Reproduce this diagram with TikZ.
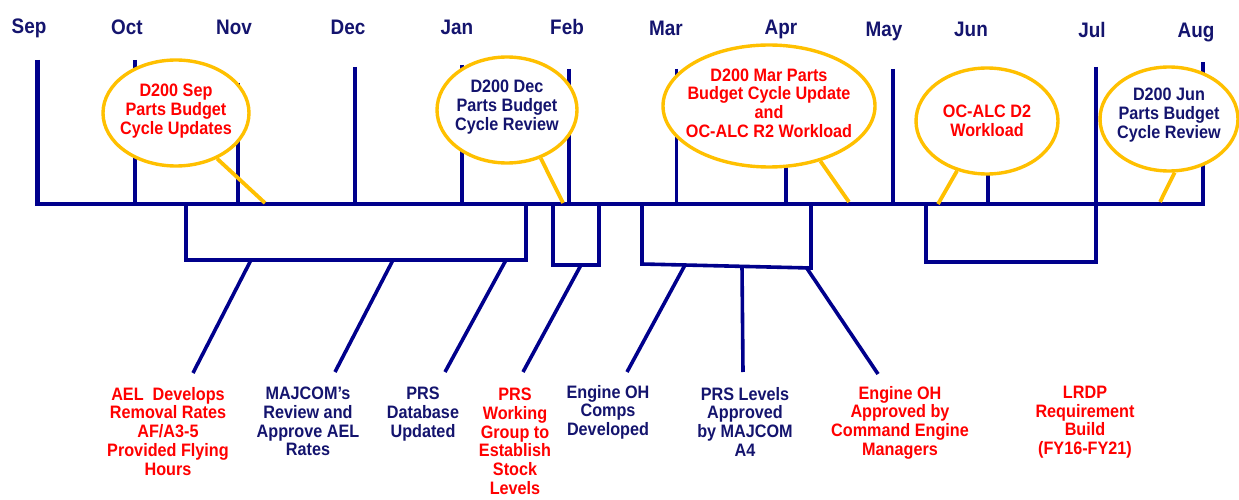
\documentclass[tikz,border=0pt]{standalone}
\usepackage{fontspec}
\newfontfamily\labfont{Liberation Sans}[FakeStretch=0.9]
\usetikzlibrary{shapes.geometric}
\definecolor{navyline}{RGB}{0,0,140}
\definecolor{navytext}{RGB}{20,20,110}
\definecolor{redtext}{RGB}{255,0,0}
\definecolor{goldline}{RGB}{255,192,0}
\tikzset{
  tl/.style={draw=navyline, line width=3.6pt, line join=miter},
  mainl/.style={draw=navyline, line width=4.4pt, line join=miter},
  month/.style={font=\labfont\bfseries\fontsize{21}{21}\selectfont, text=navytext, anchor=base, inner sep=0pt},
  bubble/.style={ellipse, draw=goldline, line width=3.4pt, fill=white, inner sep=0pt},
  tail/.style={draw=goldline, line width=3.8pt},
  ctext/.style={font=\labfont\bfseries\fontsize{18}{18.6}\selectfont, align=center, inner sep=0pt},
  btext/.style={font=\labfont\bfseries\fontsize{18}{18.7}\selectfont, align=center, inner sep=0pt, anchor=north},
  redt/.style={text=redtext},
  navt/.style={text=navytext}
}
\begin{document}
\begin{tikzpicture}[x=1pt, y=-1pt]
\useasboundingbox[fill=white] (0,0) rectangle (1239,500);
% month labels
\node[month] (mSep) at (29,34) {Sep};
\node[month] (mOct) at (127,35) {Oct};
\node[month] (mNov) at (234,35) {Nov};
\node[month] (mDec) at (348,35) {Dec};
\node[month] (mJan) at (457,35) {Jan};
\node[month] (mFeb) at (567,35) {Feb};
\node[month] (mMar) at (666,36) {Mar};
\node[month] (mApr) at (781,35) {Apr};
\node[month] (mMay) at (884,37) {May};
\node[month] (mJun) at (971,37) {Jun};
\node[month] (mJul) at (1092,38) {Jul};
\node[month] (mAug) at (1196,38) {Aug};
% ticks
\foreach \x/\t in {135/60, 238/83, 355/67, 462/65, 569/69, 676.5/69, 786/70, 893/69, 988/100, 1096/67}
  \draw[tl] (\x,\t) -- (\x,204);
% main line
\draw[mainl] (37.5,60) -- (37.5,204) -- (1203,204) -- (1203,62);
% brackets
\draw[tl] (186,204) -- (186,260) -- (526,260) -- (526,204);
\draw[tl] (553,204) -- (553,265) -- (599,265) -- (599,204);
\draw[tl] (642,204) -- (642,264) -- (811,268) -- (811,204);
\draw[tl] (926,204) -- (926,262) -- (1096,262) -- (1096,204);
% connector coordinates
\coordinate (b1) at (251,260); \coordinate (l1) at (193,373);
\coordinate (b2) at (393,260); \coordinate (l2) at (335,372);
\coordinate (b3) at (506,260); \coordinate (l3) at (445,372);
\coordinate (b4) at (581,265); \coordinate (l4) at (523,372);
\coordinate (b5) at (685,265); \coordinate (l5) at (627,372);
\coordinate (b6) at (742,266); \coordinate (l6) at (743,372);
\coordinate (b7) at (806,267); \coordinate (l7) at (878,374);
\foreach \i in {1,...,7} \draw[tl] (b\i) -- (l\i);
% bubbles
\node[bubble, minimum width=146pt, minimum height=106pt] (e1) at (176,113) {};
\node[bubble, minimum width=140pt, minimum height=106pt] (e2) at (507,110) {};
\node[bubble, minimum width=212pt, minimum height=122pt] (e3) at (769,106) {};
\node[bubble, minimum width=142pt, minimum height=106pt] (e4) at (987,121) {};
\node[bubble, minimum width=138pt, minimum height=104pt] (e5) at (1169,119) {};
\coordinate (p1) at (265,203);
\coordinate (p2) at (563,203);
\coordinate (p3) at (849,202);
\coordinate (p4) at (938,204);
\coordinate (p5) at (1160,202);
\draw[tail] (e1.-48) -- (p1);
\draw[tail] (e2.-55) -- (p2);
\draw[tail] (e3.-47) -- (p3);
\draw[tail] (e4.-121) -- (p4);
\draw[tail] (e5.-84) -- (p5);
% bubble texts
\node[ctext, redt] (c1) at (176,111) {D200 Sep\\Parts Budget\\Cycle Updates};
\node[ctext, navt] (c2) at (507,107) {D200 Dec\\Parts Budget\\Cycle Review};
\node[ctext, redt] (c3) at (769,103) {D200 Mar Parts\\Budget Cycle Update\\and\\OC-ALC R2 Workload};
\node[ctext, redt] (c4) at (987,121) {OC-ALC D2\\Workload};
\node[ctext, navt] (c5) at (1169,115) {D200 Jun\\Parts Budget\\Cycle Review};
% bottom texts
\node[btext, redt] (t1) at (168,387) {AEL\ \ Develops\\Removal Rates\\AF/A3-5\\Provided Flying\\Hours};
\node[btext, navt] (t2) at (308,387) {MAJCOM’s\\Review and\\Approve AEL\\Rates};
\node[btext, navt] (t3) at (423,387) {PRS\\Database\\Updated};
\node[btext, redt] (t4) at (515,388) {PRS\\Working\\Group to\\Establish\\Stock\\Levels};
\node[btext, navt] (t5) at (608,385) {Engine OH\\Comps\\Developed};
\node[btext, navt] (t6) at (745,387) {PRS Levels\\Approved\\by MAJCOM\\A4};
\node[btext, redt] (t7) at (900,386) {Engine OH\\Approved by\\Command Engine\\Managers};
\node[btext, redt] (t8) at (1085,386) {LRDP\\Requirement\\Build\\(FY16-FY21)};
\end{tikzpicture}
\end{document}
